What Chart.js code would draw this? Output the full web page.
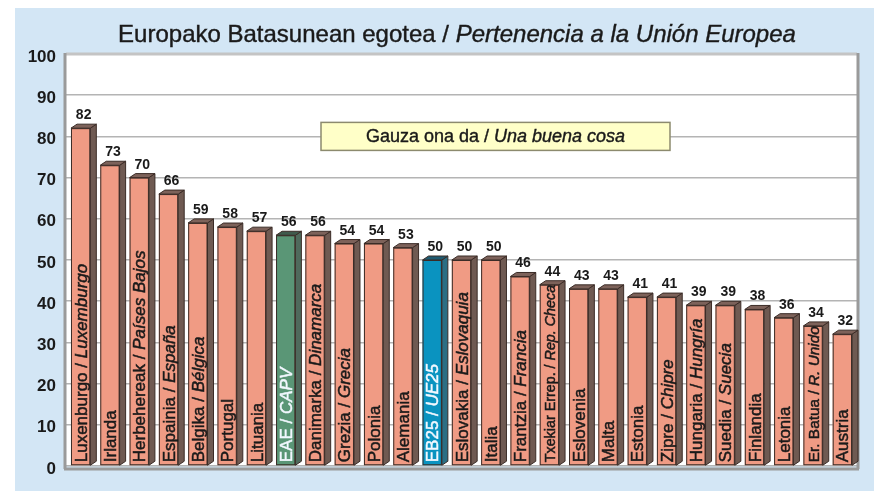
<!DOCTYPE html>
<html>
<head>
<meta charset="utf-8">
<script src="https://cdn.jsdelivr.net/npm/chart.js@4"></script>
<style>
    html, body { margin: 0; padding: 0; background: #fff; }
    canvas { display: block; }
</style>
</head>
<body>
<canvas id="grafikoa" width="874" height="491"></canvas>
<script>
// Datuak / datos
const herrialdeak = [
    'Luxenburgo / Luxemburgo', 'Irlanda', 'Herbehereak / Países Bajos', 'Espainia / España',
    'Belgika / Bélgica', 'Portugal', 'Lituania', 'EAE / CAPV', 'Danimarka / Dinamarca',
    'Grezia / Grecia', 'Polonia', 'Alemania', 'EB25 / UE25', 'Eslovakia / Eslovaquia',
    'Italia', 'Frantzia / Francia', 'Txekiar Errep. / Rep. Checa', 'Eslovenia', 'Malta',
    'Estonia', 'Zipre / Chipre', 'Hungaria / Hungría', 'Suedia / Suecia', 'Finlandia',
    'Letonia', 'Er. Batua / R. Unido', 'Austria'
];
const balioak = [82, 73, 70, 66, 59, 58, 57, 56, 56, 54, 54, 53, 50, 50, 50, 46, 44, 43, 43, 41, 41, 39, 39, 38, 36, 34, 32];
const yTikak = [0, 10, 20, 30, 40, 50, 60, 70, 80, 90, 100];

const izenburua = ['Europako Batasunean egotea / ', 'Pertenencia a la Unión Europea'];
const oharra = ['Gauza ona da / ', 'Una buena cosa'];

const LETRA = '"Liberation Sans", Arial, sans-serif';

// koloreak: aurrealdea, alboa, goialdea
const KOLOREAK = {
    arrunta: ['#f09b84', '#6f5a52', '#7d625a'],
    eae: ['#5a9676', '#4f6a5c', '#3f5a4c'],
    eb25: ['#0a93c0', '#2b6e84', '#1f5a70']
};

function motaLortu(izena) {
    if (izena.startsWith('EAE')) return 'eae';
    if (izena.startsWith('EB25')) return 'eb25';
    return 'arrunta';
}

const motak = herrialdeak.map(motaLortu);

const atzealdea = {
    id: 'atzealdea',
    beforeDraw(chart) {
        const { ctx, chartArea: a } = chart;
        ctx.save();
        ctx.fillStyle = '#fff';
        ctx.fillRect(0, 0, chart.width, chart.height);
        ctx.fillStyle = '#d3e6f5';
        ctx.fillRect(15, 8, chart.width - 15, chart.height - 8);
        ctx.fillStyle = '#fff';
        ctx.fillRect(a.left, a.top, a.right - a.left, a.bottom - a.top);
        ctx.restore();
    },
    beforeDatasetsDraw(chart) {
        const { ctx, chartArea: a } = chart;
        ctx.save();
        ctx.lineWidth = 3;
        ctx.strokeStyle = '#c4c4c4';
        ctx.beginPath();
        ctx.moveTo(a.left, a.top);
        ctx.lineTo(a.right, a.top);
        ctx.stroke();
        ctx.strokeStyle = '#9a9a9a';
        ctx.beginPath();
        ctx.moveTo(a.left - 1, a.bottom + 3);
        ctx.lineTo(a.left - 1, a.top - 1);
        ctx.moveTo(a.right + 1, a.top - 1);
        ctx.lineTo(a.right + 1, a.bottom + 3);
        ctx.moveTo(a.left - 2, a.bottom + 3);
        ctx.lineTo(a.right + 2, a.bottom + 3);
        ctx.stroke();
        ctx.restore();
    }
};

// lehen zatia arrunta, bigarrena etzana; marra mehe batekin loditua
function testuNahasia(ctx, zatiak, y, tamaina, lodiera) {
    ctx.font = `${tamaina}px ${LETRA}`;
    const w1 = ctx.measureText(zatiak[0]).width;
    ctx.font = `italic ${tamaina}px ${LETRA}`;
    const w2 = zatiak[1] ? ctx.measureText(zatiak[1]).width : 0;
    return { w1, w2, marraztu(x0) {
        ctx.lineWidth = lodiera;
        ctx.strokeStyle = ctx.fillStyle;
        ctx.font = `${tamaina}px ${LETRA}`;
        ctx.fillText(zatiak[0], x0, y);
        if (lodiera) ctx.strokeText(zatiak[0], x0, y);
        if (zatiak[1]) {
            ctx.font = `italic ${tamaina}px ${LETRA}`;
            ctx.fillText(zatiak[1], x0 + w1, y);
            if (lodiera) ctx.strokeText(zatiak[1], x0 + w1, y);
        }
    } };
}

const barra3d = {
    id: 'barra3d',
    afterDatasetsDraw(chart) {
        const { ctx } = chart;
        const meta = chart.getDatasetMeta(0);
        const d = 6, dy = 4;
        ctx.save();
        meta.data.forEach((bar, i) => {
            const k = KOLOREAK[motak[i]];
            const l = bar.x - bar.width / 2, r = bar.x + bar.width / 2;
            const t = bar.y, b = bar.base;
            ctx.lineWidth = 1;
            ctx.strokeStyle = '#3b2c27';
            // alboa
            ctx.fillStyle = k[1];
            ctx.beginPath();
            ctx.moveTo(r, t);
            ctx.lineTo(r + d, t - dy);
            ctx.lineTo(r + d, b - dy);
            ctx.lineTo(r, b);
            ctx.closePath();
            ctx.fill();
            ctx.stroke();
            // goialdea
            ctx.fillStyle = k[2];
            ctx.beginPath();
            ctx.moveTo(l, t);
            ctx.lineTo(l + d, t - dy);
            ctx.lineTo(r + d, t - dy);
            ctx.lineTo(r, t);
            ctx.closePath();
            ctx.fill();
            ctx.stroke();
            // aurrealdea ertza
            ctx.strokeRect(l + 0.5, t + 0.5, bar.width - 1, b - t - 1);

            // balioa goian
            ctx.fillStyle = '#1a1a1a';
            ctx.font = `bold 14px ${LETRA}`;
            ctx.textAlign = 'center';
            ctx.textBaseline = 'alphabetic';
            ctx.fillText(String(balioak[i]), bar.x + 3, t - 9);

            // izena barruan, bertikalean
            const zatiak = herrialdeak[i].split(' / ');
            if (zatiak.length > 1) zatiak[0] += ' / ';
            let tam = 17;
            ctx.textAlign = 'left';
            const neurria = testuNahasia(ctx, zatiak, 0, tam, 0);
            const luzera = b - t - 3;
            if (neurria.w1 + neurria.w2 > luzera) {
                tam = tam * luzera / (neurria.w1 + neurria.w2);
            }
            ctx.save();
            ctx.translate(bar.x + tam * 0.36, b - 3);
            ctx.rotate(-Math.PI / 2);
            ctx.fillStyle = motak[i] === 'arrunta' ? '#1a1a1a' : '#f2f8ff';
            testuNahasia(ctx, zatiak, 0, tam, 0.5).marraztu(0);
            ctx.restore();
        });
        ctx.restore();
    },
    afterDraw(chart) {
        const { ctx } = chart;
        ctx.save();
        ctx.fillStyle = '#1a1a1a';
        ctx.textAlign = 'left';
        ctx.textBaseline = 'middle';
        // izenburua
        const iz = testuNahasia(ctx, izenburua, 35, 24, 0.4);
        iz.marraztu(457 - (iz.w1 + iz.w2) / 2);
        // oharra kutxan
        const yk = chart.scales.y.getPixelForValue(80);
        const kx = 321, kw = 349, kh = 28;
        ctx.fillStyle = '#ffffc8';
        ctx.fillRect(kx, yk - kh / 2, kw, kh);
        ctx.strokeStyle = '#8c8a6e';
        ctx.lineWidth = 1.5;
        ctx.strokeRect(kx, yk - kh / 2, kw, kh);
        ctx.fillStyle = '#1a1a1a';
        const oh = testuNahasia(ctx, oharra, yk + 1, 18, 0.4);
        oh.marraztu(kx + kw / 2 - (oh.w1 + oh.w2) / 2);
        ctx.restore();
    }
};

new Chart(document.getElementById('grafikoa'), {
    type: 'bar',
    data: {
        labels: herrialdeak,
        datasets: [{
            data: balioak,
            backgroundColor: motak.map(m => KOLOREAK[m][0]),
            borderWidth: 0,
            barPercentage: 0.66,
            categoryPercentage: 1
        }]
    },
    options: {
        responsive: false,
        animation: false,
        layout: {
            padding: { top: 54, right: 17, bottom: 25, left: 0 }
        },
        plugins: {
            legend: { display: false },
            tooltip: { enabled: false }
        },
        scales: {
            x: {
                display: false
            },
            y: {
                min: 0,
                max: 100,
                afterBuildTicks: (eskala) => {
                    eskala.ticks = yTikak.map(v => ({ value: v }));
                },
                afterFit: (eskala) => {
                    eskala.width = 66;
                },
                ticks: {
                    color: '#1a1a1a',
                    padding: 10,
                    labelOffset: 3,
                    font: { family: LETRA, size: 17, weight: 'bold' }
                },
                grid: {
                    color: '#b4b4b4',
                    lineWidth: 1.5,
                    drawTicks: false
                },
                border: { display: false }
            }
        }
    },
    plugins: [atzealdea, barra3d]
});
</script>
</body>
</html>
